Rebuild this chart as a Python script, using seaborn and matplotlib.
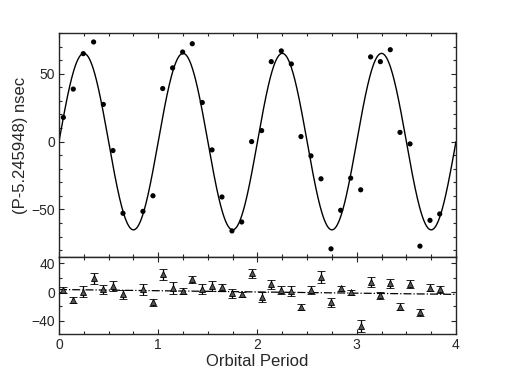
import numpy as np
import pandas as pd
import matplotlib
matplotlib.use("Agg")
import matplotlib.pyplot as plt
from matplotlib.ticker import MultipleLocator
import seaborn as sns

# orbital phase of each timing point
phase = [0.044, 0.144, 0.245, 0.349, 0.447, 0.544, 0.645, 0.846, 0.947, 1.045,
         1.145, 1.246, 1.343, 1.444, 1.542, 1.642, 1.743, 1.841, 1.941, 2.042,
         2.139, 2.240, 2.341, 2.438, 2.539, 2.640, 2.741, 2.838, 2.939, 3.040,
         3.140, 3.238, 3.338, 3.436, 3.537, 3.637, 3.738, 3.836]

# measured period minus 5.245948, in nsec
period_offset = [17.8, 38.7, 64.8, 73.4, 27.4, -6.6, -52.8, -51.4, -39.9, 39.1,
                 54.3, 66.0, 72.1, 28.8, -6.1, -40.8, -65.8, -59.2, 0.0, 8.1,
                 58.9, 66.8, 57.2, 3.7, -10.5, -27.4, -79.0, -50.6, -26.9, -35.5,
                 62.4, 58.9, 67.7, 6.8, -1.7, -77.0, -58.0, -53.3]

# residuals after the orbital fit, with errors
residual = [2.8, -11.0, 0.5, 19.0, 3.7, 8.4, -3.3, 3.7, -14.4, 24.7,
            5.1, 1.9, 17.7, 4.2, 8.4, 6.5, -1.9, -3.3, 26.0, -6.5,
            10.7, 2.8, 1.4, -21.3, 2.8, 20.5, -13.9, 5.1, -0.5, -47.4,
            14.4, -4.6, 12.1, -20.5, 11.1, -28.3, 6.0, 3.7]
residual_err = [4.2, 4.0, 8.0, 7.5, 5.8, 7.0, 5.8, 7.5, 5.0, 8.0,
                8.4, 4.0, 5.3, 7.5, 6.5, 5.0, 5.8, 3.5, 6.5, 7.0,
                5.8, 5.8, 6.5, 4.0, 5.8, 8.4, 6.3, 3.5, 4.0, 8.4,
                7.3, 4.7, 6.5, 5.0, 5.1, 5.1, 4.7, 5.1]

# sinusoidal orbit fit and linear trend of the residuals
fit_amplitude = 65.0
fit_period = 1.0
trend_intercept = 3.6
trend_slope = -1.7

sns.set_style("ticks")
plt.rcParams["font.family"] = ["Liberation Sans", "DejaVu Sans"]

df = pd.DataFrame({"phase": phase, "offset": period_offset,
                   "resid": residual, "err": residual_err})
grid = np.linspace(0, 4, 1201)
model = pd.DataFrame({"phase": grid,
                      "offset": fit_amplitude * np.sin(2 * np.pi * grid / fit_period)})
trend = pd.DataFrame({"phase": [0, 4]})
trend["resid"] = trend_intercept + trend_slope * trend["phase"]

fig = plt.figure(figsize=(5.08, 3.92), dpi=100)
ax1 = fig.add_axes([0.1161, 0.3444, 0.7815, 0.5714])
ax2 = fig.add_axes([0.1161, 0.148, 0.7815, 0.1964])

# top panel: timing data and fit
sns.lineplot(data=model, x="phase", y="offset", ax=ax1, color="black", lw=1.0)
sns.scatterplot(data=df, x="phase", y="offset", ax=ax1, color="black",
                s=14, edgecolor="none", zorder=3)
ax1.set_xlim(0, 4)
ax1.set_ylim(-85, 80)
ax1.xaxis.set_major_locator(MultipleLocator(1))
ax1.xaxis.set_minor_locator(MultipleLocator(0.25))
ax1.yaxis.set_major_locator(MultipleLocator(50))
ax1.yaxis.set_minor_locator(MultipleLocator(10))
ax1.set_xticklabels([])
ax1.set_xlabel("")
ax1.set_ylabel("(P-5.245948) nsec", fontsize=12, labelpad=2)

# bottom panel: residuals
sns.lineplot(data=trend, x="phase", y="resid", ax=ax2, color="black",
             lw=0.9, linestyle="-.")
ax2.errorbar(df["phase"], df["resid"], yerr=df["err"], fmt="^", ms=4.8,
             mfc="#555555", mec="black", mew=0.6, ecolor="black",
             elinewidth=0.9, capsize=3.0, capthick=0.9, zorder=3)
ax2.set_xlim(0, 4)
ax2.set_ylim(-58.5, 49)
ax2.xaxis.set_major_locator(MultipleLocator(1))
ax2.xaxis.set_minor_locator(MultipleLocator(0.25))
ax2.yaxis.set_major_locator(MultipleLocator(40))
ax2.yaxis.set_minor_locator(MultipleLocator(20))
ax2.set_xlabel("Orbital Period", fontsize=12, labelpad=1)
ax2.set_ylabel("")

for ax in (ax1, ax2):
    ax.tick_params(which="both", direction="in", top=True, right=True,
                   labelsize=10, width=0.8, pad=3)
    ax.tick_params(which="major", length=3.5)
    ax.tick_params(which="minor", length=2.5)
    for sp in ax.spines.values():
        sp.set_linewidth(1.0)
        sp.set_visible(True)

fig.savefig("out.png", dpi=100)
